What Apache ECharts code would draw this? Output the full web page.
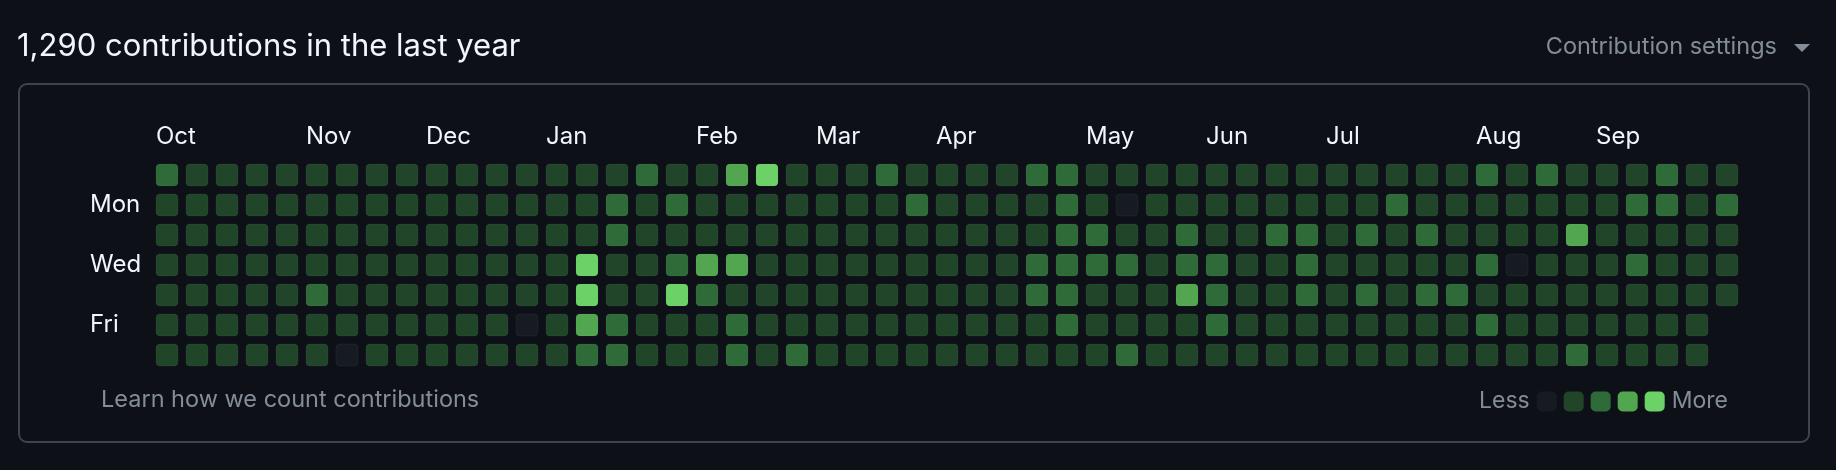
<!DOCTYPE html>
<html>
<head>
<meta charset="utf-8">
<script src="https://cdn.jsdelivr.net/npm/echarts@6/dist/echarts.min.js"></script>
<style>
  html, body { margin: 0; padding: 0; background: #0d1117; }
  #chart { width: 1836px; height: 470px; }
</style>
</head>
<body>
<div id="chart"></div>
<script>
// contribution levels (0-4), one array per weekday, one entry per week
const sunLevels = [2,1,1,1,1,1,1,1,1,1,1,1,1, 1,1,1,2,1,1,3,4,1,1,1,2,1, 1,1,1,2,2,1,1,1,1,1,1,1,1,1, 1,1,1,1,2,1,2,1,1,1,2,1,1];
const monLevels = [1,1,1,1,1,1,1,1,1,1,1,1,1, 1,1,2,1,2,1,1,1,1,1,1,1,2, 1,1,1,1,2,1,0,1,1,1,1,1,1,1, 1,2,1,1,1,1,1,1,1,2,2,1,2];
const tueLevels = [1,1,1,1,1,1,1,1,1,1,1,1,1, 1,1,2,1,1,1,1,1,1,1,1,1,1, 1,1,1,1,2,2,1,1,2,1,1,2,2,1, 2,1,2,1,1,1,1,3,1,1,1,1,1];
const wedLevels = [1,1,1,1,1,1,1,1,1,1,1,1,1, 1,4,1,1,2,3,3,1,1,1,1,1,1, 1,1,1,2,2,2,2,1,2,2,1,1,2,1, 1,1,1,1,2,0,1,1,1,2,1,1,1];
const thuLevels = [1,1,1,1,1,2,1,1,1,1,1,1,1, 1,4,1,1,4,2,1,1,1,1,1,1,1, 1,1,1,2,2,1,1,1,3,2,1,1,2,1, 2,1,2,2,1,1,1,1,1,1,1,1,1];
const friLevels = [1,1,1,1,1,1,1,1,1,1,1,1,0, 1,3,2,1,1,1,2,1,1,1,1,1,1, 1,1,1,1,2,1,1,1,1,2,1,1,1,1, 1,1,1,1,2,1,1,1,1,1,1,1];
const satLevels = [1,1,1,1,1,1,0,1,1,1,1,1,1, 1,2,2,1,1,1,2,1,2,1,1,1,1, 1,1,1,1,1,1,2,1,1,1,1,1,1,1, 1,1,1,1,1,1,1,2,1,1,1,1];

const dayLabels = ['', 'Mon', '', 'Wed', '', 'Fri', ''];
const monthNames = ['Oct', 'Nov', 'Dec', 'Jan', 'Feb', 'Mar', 'Apr', 'May', 'Jun', 'Jul', 'Aug', 'Sep'];
const monthWeeks = [0, 5, 9, 13, 18, 22, 26, 31, 35, 39, 44, 48];
const levelColors = ['#161b22', '#204529', '#2e6b38', '#52a650', '#6cd166'];

const WEEKS = 53;
const FONT = 'Inter, "Noto Sans", sans-serif';

let weeks = [];
for (let i = 0; i < WEEKS; i++) weeks.push(i);

let cells = [];
[sunLevels, monLevels, tueLevels, wedLevels, thuLevels, friLevels, satLevels].forEach((row, day) => {
    row.forEach((lvl, w) => {
        cells.push([w, day, lvl]);
    });
});

let monthData = monthWeeks.map((w, i) => [w, 0, monthNames[i]]);

function renderCell(params, api) {
    let p = api.coord([api.value(0), api.value(1)]);
    let s = api.size([1, 1]);
    let w = s[0] * 0.733;
    return {
        type: 'rect',
        shape: { x: p[0] - w / 2, y: p[1] - w / 2, width: w, height: w, r: 4 },
        style: { fill: api.visual('color'), stroke: 'rgba(255,255,255,0.05)', lineWidth: 1 }
    };
}

function renderMonth(params, api) {
    let p = api.coord([api.value(0), api.value(1)]);
    let s = api.size([1, 1]);
    return {
        type: 'text',
        x: p[0] - s[0] * 0.367,
        y: p[1] - s[1] * 1.27,
        style: {
            text: monthData[params.dataIndex][2],
            fill: '#f0f6fc',
            font: '24px ' + FONT,
            textAlign: 'left',
            textVerticalAlign: 'middle'
        }
    };
}

let chart = echarts.init(document.getElementById('chart'));
chart.setOption({
    backgroundColor: '#0d1117',
    animation: false,
    grid: { left: 152, top: 160, width: WEEKS * 30, height: 210 },
    xAxis: {
        type: 'category',
        data: weeks,
        position: 'top',
        axisLine: { show: false },
        axisTick: { show: false },
        axisLabel: { show: false },
        splitLine: { show: false }
    },
    yAxis: {
        type: 'category',
        data: dayLabels,
        inverse: true,
        axisLine: { show: false },
        axisTick: { show: false },
        splitLine: { show: false },
        axisLabel: {
            interval: 0,
            align: 'left',
            margin: 62,
            color: '#f0f6fc',
            fontSize: 24,
            fontFamily: FONT
        }
    },
    visualMap: {
        type: 'piecewise',
        seriesIndex: 0,
        dimension: 2,
        orient: 'horizontal',
        left: 1464,
        top: 375,
        itemWidth: 20,
        itemHeight: 20,
        itemGap: 7,
        itemSymbol: 'roundRect',
        showLabel: false,
        text: ['More', 'Less'],
        textGap: 8,
        textStyle: { color: '#848d97', fontSize: 23, fontFamily: FONT },
        hoverLink: false,
        pieces: levelColors.map((c, i) => ({ value: i, color: c }))
    },
    graphic: [
        {
            type: 'text',
            style: { x: 17, y: 47, text: '1,290 contributions in the last year', fill: '#f0f6fc',
                     font: '31px ' + FONT, textVerticalAlign: 'middle' }
        },
        {
            type: 'text',
            style: { x: 1777, y: 47, text: 'Contribution settings', fill: '#848d97',
                     font: '23.5px ' + FONT, textAlign: 'right', textVerticalAlign: 'middle' }
        },
        {
            type: 'polygon',
            shape: { points: [[1794, 44], [1810, 44], [1802, 52]] },
            style: { fill: '#848d97' }
        },
        {
            type: 'rect',
            shape: { x: 19, y: 84, width: 1790, height: 358, r: 8 },
            style: { fill: 'none', stroke: '#3d444d', lineWidth: 2 }
        },
        {
            type: 'text',
            style: { x: 101, y: 400, text: 'Learn how we count contributions', fill: '#848d97',
                     font: '23.5px ' + FONT, textVerticalAlign: 'middle' }
        }
    ],
    series: [
        {
            type: 'custom',
            renderItem: renderCell,
            encode: { x: 0, y: 1 },
            data: cells
        },
        {
            type: 'custom',
            renderItem: renderMonth,
            encode: { x: 0, y: 1 },
            data: monthData
        }
    ]
});
</script>
</body>
</html>
